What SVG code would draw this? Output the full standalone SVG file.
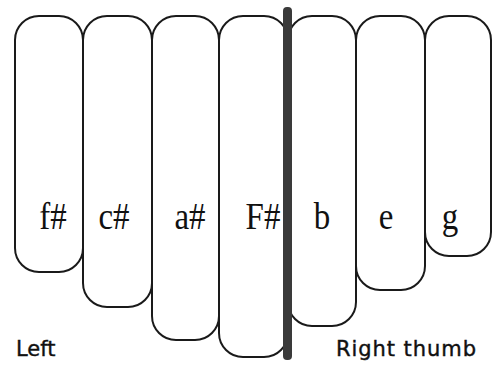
<svg xmlns="http://www.w3.org/2000/svg" width="493" height="368" viewBox="0 0 493 368">
<style>
.key{fill:none;stroke:#1a1a1a;stroke-width:2}
.note{font-family:"Liberation Serif","Times New Roman",serif;font-size:33px;fill:#111;text-anchor:middle}
.lbl{font-family:"DejaVu Sans",Verdana,sans-serif;font-size:21px;fill:#111;stroke:#111;stroke-width:0.4}
</style>
<rect width="493" height="368" fill="#fff"/>
<g id="key-fs"><rect class="key" x="15" y="16" width="68" height="256" rx="24" ry="24"/><text class="note" transform="translate(53 229) scale(1 1.12)">f#</text></g>
<g id="key-cs"><rect class="key" x="83" y="16" width="69" height="291" rx="24" ry="24"/><text class="note" transform="translate(114 229) scale(1 1.12)">c#</text></g>
<g id="key-as"><rect class="key" x="152" y="16" width="67" height="324" rx="24" ry="24"/><text class="note" transform="translate(190 229) scale(1 1.12)">a#</text></g>
<g id="key-Fs"><rect class="key" x="219" y="16" width="69" height="341" rx="24" ry="24"/><text class="note" transform="translate(263 229) scale(1 1.12)">F#</text></g>
<g id="key-b"><rect class="key" x="288" y="16" width="68" height="310" rx="24" ry="24"/><text class="note" transform="translate(322 229) scale(1 1.12)">b</text></g>
<g id="key-e"><rect class="key" x="356" y="16" width="69" height="274" rx="24" ry="24"/><text class="note" transform="translate(386 229) scale(1 1.12)">e</text></g>
<g id="key-g"><rect class="key" x="425" y="16" width="66" height="240" rx="24" ry="24"/><text class="note" transform="translate(450 229) scale(1 1.12)">g</text></g>
<g id="connectors"><rect id="divider" x="283" y="7" width="9" height="353" rx="4" fill="#3a3a3a"/></g>
<text class="lbl" x="16" y="356">Left</text>
<text class="lbl" x="336" y="356" textLength="140">Right thumb</text>
</svg>
